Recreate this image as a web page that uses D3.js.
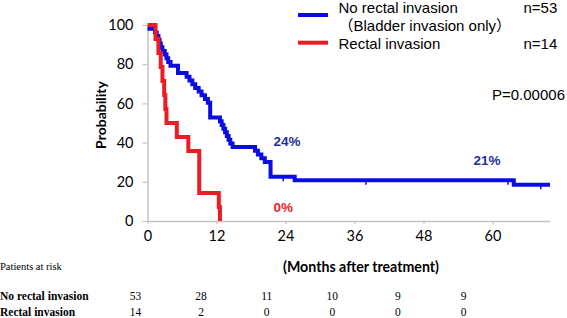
<!DOCTYPE html>
<html>
<head>
<meta charset="utf-8">
<script src="https://cdn.jsdelivr.net/npm/d3@7"></script>
<style>
  body { margin: 0; background: #fff; }
</style>
</head>
<body>
<div id="chart"></div>
<script>
// Kaplan-Meier curves (months, survival %)
var blueTimes = [0, 1.3, 1.6, 1.9, 2.1, 2.3, 2.6, 3.0, 3.3, 3.6, 4.0, 5.3, 6.8, 7.3, 7.8, 8.3, 8.9, 9.4, 10.0, 10.5, 10.9,
                 12.6, 12.9, 13.2, 13.5, 13.8, 14.1, 14.4, 14.8, 18.7, 19.2, 19.8, 20.4, 21.4, 25.6, 63.7, 70];
var blueSurv  = [98.11, 96.23, 94.34, 92.45, 90.57, 88.68, 86.79, 84.91, 83.02, 81.13, 79.25, 75.47, 73.58, 71.70, 69.81, 67.92, 66.04, 64.15, 62.26, 60.38, 52.83,
                 50.9, 49.0, 47.1, 45.3, 43.4, 41.5, 39.6, 37.7, 35.8, 33.9, 32.0, 30.1, 22.6, 20.8, 18.5, 18.5];
var blueCensor = [23.6, 38.0, 62.7, 68.4];

var redTimes = [0, 1.4, 1.9, 2.3, 2.6, 2.9, 3.1, 3.3, 5.1, 7.1, 9.0, 12.4, 12.6];
var redSurv  = [100, 92.86, 85.71, 78.57, 71.43, 64.29, 57.14, 50.0, 42.86, 35.71, 14.29, 7.14, 0];

var xTicks = [0, 12, 24, 36, 48, 60];
var yTicks = [0, 20, 40, 60, 80, 100];

// patients at risk table
var riskMonths = [0, 12, 24, 36, 48, 60];
var riskNo = [53, 28, 11, 10, 9, 9];
var riskRectal = [14, 2, 0, 0, 0, 0];

var BLUE = "#0b0be6", RED = "#ed1c24";

var svg = d3.select("#chart")
    .append("svg")
    .attr("width", 567)
    .attr("height", 318);

var x = d3.scaleLinear().domain([0, 70]).range([147.5, 550]);
var y = d3.scaleLinear().domain([0, 100]).range([221, 25]);

// axes
var yAxis = svg.append("g")
    .attr("transform", "translate(" + x(0) + ",0)")
    .call(d3.axisLeft(y).tickValues(yTicks).tickSize(5).tickSizeOuter(0).tickPadding(9));
var xAxis = svg.append("g")
    .attr("transform", "translate(0," + y(0) + ")")
    .call(d3.axisBottom(x).tickValues(xTicks).tickSize(3).tickSizeOuter(0).tickPadding(7));

[xAxis, yAxis].forEach(function(a) {
    a.select(".domain").attr("stroke", "#c4c4c4").attr("stroke-width", 1.5);
    a.selectAll(".tick line").attr("stroke", "#c4c4c4").attr("stroke-width", 1.2);
    a.selectAll(".tick text")
        .attr("fill", "#000")
        .style("font-family", "Lato, 'Open Sans', sans-serif")
        .style("font-size", "14.5px");
});

svg.append("text")
    .attr("transform", "translate(106,115) rotate(-90)")
    .attr("text-anchor", "middle")
    .style("font-family", "Lato, 'Open Sans', sans-serif")
    .style("font-weight", "bold")
    .style("font-size", "14px")
    .text("Probability");

// curves
var line = d3.line()
    .x(function(d) { return x(d.t); })
    .y(function(d) { return y(d.s); })
    .curve(d3.curveStepAfter);

var blueData = blueTimes.map(function(t, i) { return {t: t, s: blueSurv[i]}; });
var redData = redTimes.map(function(t, i) { return {t: t, s: redSurv[i]}; });

svg.append("path")
    .datum(blueData)
    .attr("d", line)
    .attr("fill", "none")
    .attr("stroke", BLUE)
    .attr("stroke-width", 4);

function survAt(data, t) {
    var s = data[0].s;
    data.forEach(function(d) { if (d.t <= t) s = d.s; });
    return s;
}

svg.selectAll(".censor")
    .data(blueCensor)
    .enter()
    .append("line")
    .attr("x1", function(t) { return x(t); })
    .attr("x2", function(t) { return x(t); })
    .attr("y1", function(t) { return y(survAt(blueData, t)); })
    .attr("y2", function(t) { return y(survAt(blueData, t)) + 4.5; })
    .attr("stroke", BLUE)
    .attr("stroke-width", 1.5);

svg.append("path")
    .datum(redData)
    .attr("d", line)
    .attr("fill", "none")
    .attr("stroke", RED)
    .attr("stroke-width", 4);

// percent labels
svg.append("text").attr("x", 273.5).attr("y", 146)
    .attr("fill", "#1f2f9c").style("font-family", "'Liberation Sans', Arial, sans-serif")
    .style("font-weight", "bold").style("font-size", "13.5px").text("24%");
svg.append("text").attr("x", 473.5).attr("y", 165)
    .attr("fill", "#1f2f9c").style("font-family", "'Liberation Sans', Arial, sans-serif")
    .style("font-weight", "bold").style("font-size", "13.5px").text("21%");
svg.append("text").attr("x", 273.5).attr("y", 211.5)
    .attr("fill", "#e5262d").style("font-family", "'Liberation Sans', Arial, sans-serif")
    .style("font-weight", "bold").style("font-size", "13.5px").text("0%");

// legend
var legend = svg.append("g")
    .style("font-family", "'Liberation Sans', Arial, 'Noto Sans CJK JP', sans-serif")
    .style("font-size", "15px");
legend.append("line").attr("x1", 298).attr("x2", 328).attr("y1", 15).attr("y2", 15)
    .attr("stroke", BLUE).attr("stroke-width", 4);
legend.append("line").attr("x1", 298).attr("x2", 328).attr("y1", 42.7).attr("y2", 42.7)
    .attr("stroke", RED).attr("stroke-width", 4);
legend.append("text").attr("x", 338.5).attr("y", 13).text("No rectal invasion");
legend.append("text").attr("x", 338.5).attr("y", 30.5).text("（Bladder invasion only）");
legend.append("text").attr("x", 338.5).attr("y", 49).text("Rectal invasion");
legend.append("text").attr("x", 523.5).attr("y", 13).text("n=53");
legend.append("text").attr("x", 523.5).attr("y", 49).text("n=14");
legend.append("text").attr("x", 565).attr("y", 100).attr("text-anchor", "end").text("P=0.00006");

// patients at risk
var col = d3.scalePoint().domain(riskMonths).range([135.5, 463.5]);
var serif = "'Liberation Serif', 'Times New Roman', serif";

svg.append("text").attr("x", 0).attr("y", 270)
    .style("font-family", serif).style("font-size", "10.5px").text("Patients at risk");
svg.append("text").attr("x", 283).attr("y", 271.5)
    .style("font-family", "Lato, 'Open Sans', sans-serif").style("font-weight", "bold")
    .style("font-size", "14.2px").text("(Months after treatment)");

var rows = [
    {label: "No rectal invasion", values: riskNo, y: 300},
    {label: "Rectal invasion", values: riskRectal, y: 315.5}
];
rows.forEach(function(r) {
    svg.append("text").attr("x", 0).attr("y", r.y)
        .style("font-family", serif).style("font-weight", "bold").style("font-size", "11.5px")
        .text(r.label);
    svg.selectAll(null)
        .data(r.values)
        .enter()
        .append("text")
        .attr("x", function(d, i) { return col(riskMonths[i]); })
        .attr("y", r.y)
        .attr("text-anchor", "middle")
        .style("font-family", serif)
        .style("font-size", "11.5px")
        .text(function(d) { return d; });
});
</script>
</body>
</html>
